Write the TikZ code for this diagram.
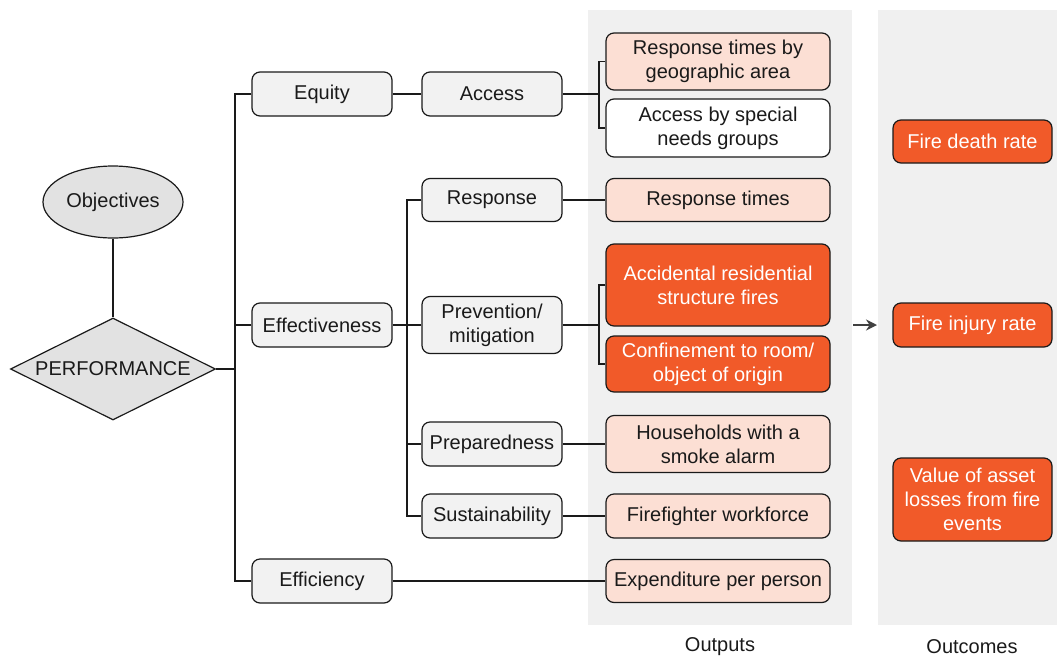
\documentclass[tikz,border=0pt]{standalone}
\usepackage{fontspec}
\setmainfont{Liberation Sans}
\usetikzlibrary{shapes.geometric,arrows.meta}
\definecolor{panel}{HTML}{F0F0F0}
\definecolor{graybox}{HTML}{F2F2F2}
\definecolor{shapegray}{HTML}{E2E2E2}
\definecolor{salmon}{HTML}{FCDFD4}
\definecolor{fireorange}{HTML}{F15A29}
\definecolor{inkline}{HTML}{1A1A1A}
\definecolor{arrowgray}{HTML}{404040}
\tikzset{
  txt/.style={font=\fontsize{20}{24}\selectfont, align=center, text=inkline},
  rbox/.style={txt, draw=inkline, line width=1.2pt, rounded corners=8pt, inner sep=0pt},
  objbox/.style={rbox, fill=graybox, minimum width=140pt, minimum height=44pt},
  outbox/.style={rbox, fill=salmon, minimum width=224pt},
  hotbox/.style={rbox, fill=fireorange, text=white},
  conn/.style={draw=inkline, line width=1.2pt},
}
\begin{document}
\begin{tikzpicture}[x=1pt,y=-1pt]
\useasboundingbox (0,0) rectangle (1057,659);
% panels
\fill[panel] (588,10) rectangle (852,625);
\fill[panel] (878,10) rectangle (1057,625);
\node[txt] (outlbl) at (720,647) {Outputs};
\node[txt] (outclbl) at (972,647) {Outcomes};

% left shapes
\node[txt, ellipse, draw=inkline, line width=1.2pt, fill=shapegray, minimum width=140pt, minimum height=72pt, inner sep=0pt] (obj) at (113,202) {Objectives};
\node[txt, diamond, aspect=2, draw=inkline, line width=1.2pt, fill=shapegray, minimum width=205pt, minimum height=102pt, inner sep=0pt] (perf) at (113,369) {PERFORMANCE};
\draw[conn] (obj.south) -- (perf.north);

% level 1
\node[objbox] (equity) at (322,94) {Equity};
\node[objbox] (effect) at (322,325) {Effectiveness};
\node[objbox] (effic) at (322,581) {Efficiency};

% level 2
\node[objbox] (access) at (492,94) {Access};
\node[objbox, minimum height=43pt] (resp) at (492,200) {Response};
\node[objbox, minimum height=57pt] (prev) at (492,325) {Prevention/\\mitigation};
\node[objbox] (prep) at (492,444) {Preparedness};
\node[objbox] (sust) at (492,516) {Sustainability};

% outputs
\node[outbox, minimum height=57pt] (rtga) at (718,61.5) {Response times by\\geographic area};
\node[outbox, fill=white, minimum height=58pt] (abs) at (718,128) {Access by special\\needs groups};
\node[outbox, minimum height=43pt] (rtimes) at (718,200) {Response times};
\node[hotbox, minimum width=224pt, minimum height=82pt] (accid) at (718,285) {Accidental residential\\structure fires};
\node[hotbox, minimum width=224pt, minimum height=56pt] (confine) at (718,364) {Confinement to room/\\object of origin};
\node[outbox, minimum height=57pt] (house) at (718,444) {Households with a\\smoke alarm};
\node[outbox, minimum height=44pt] (ffw) at (718,516) {Firefighter workforce};
\node[outbox, minimum height=43pt] (expend) at (718,581) {Expenditure per person};

% outcomes
\node[hotbox, minimum width=159pt, minimum height=43pt] (death) at (972.5,141.5) {Fire death rate};
\node[hotbox, minimum width=159pt, minimum height=44pt] (injury) at (972.5,325) {Fire injury rate};
\node[hotbox, minimum width=159pt, minimum height=83pt] (asset) at (972.5,499.5) {Value of asset\\losses from fire\\events};

% trunk coordinates
\coordinate (tr) at (235,0);
\coordinate (tr2) at (407,0);
\coordinate (br) at (599,0);
\coordinate (arrS) at (853,325);
\coordinate (arrE) at (877,325);

% connectors
\draw[conn] (perf.east) -- (perf.east -| tr);
\draw[conn] (equity.west) -- (equity.west -| tr) -- (effic.west -| tr) -- (effic.west);
\draw[conn] (effect.west) -- (effect.west -| tr);
\draw[conn] (equity.east) -- (access.west);
\draw[conn] (effic.east) -- (expend.west);

\draw[conn] (effect.east) -- (effect.east -| tr2);
\draw[conn] (resp.west) -- (resp.west -| tr2) -- (sust.west -| tr2) -- (sust.west);
\draw[conn] (prev.west) -- (prev.west -| tr2);
\draw[conn] (prep.west) -- (prep.west -| tr2);

\draw[conn] (access.east) -- (access.east -| br);
\draw[conn] (rtga.west) -- (rtga.west -| br) -- (abs.west -| br) -- (abs.west);
\draw[conn] (prev.east) -- (prev.east -| br);
\draw[conn] (accid.west) -- (accid.west -| br) -- (confine.west -| br) -- (confine.west);
\draw[conn] (resp.east) -- (rtimes.west);
\draw[conn] (prep.east) -- (house.west);
\draw[conn] (sust.east) -- (ffw.west);

\draw[draw=arrowgray, line width=1.6pt, -{Stealth[length=11pt,width=11pt]}] (arrS) -- (arrE);
\end{tikzpicture}
\end{document}
